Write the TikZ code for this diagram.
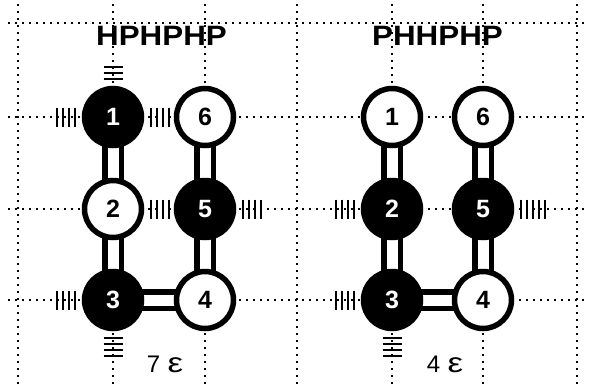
\documentclass[tikz,border=0pt]{standalone}
\usepackage{fontspec}
\setmainfont{Liberation Sans}
\usetikzlibrary{calc,backgrounds}

% strokes of a hydrophobic contact, beside a residue (horizontal offset)
\newcommand\contactside[3]{%
  \foreach \k in {1,...,#3}{\draw[hatch] ($(#1)+({#2*(32+6*\k)},-9.5)$) -- ++(0,19);}}
% strokes of a hydrophobic contact, above or below a residue
\newcommand\contactvert[3]{%
  \foreach \k in {1,...,#3}{\draw[hatch] ($(#1)+(-9.5,{#2*(32+6*\k)})$) -- ++(19,0);}}

\tikzset{
  gridline/.style={line width=2pt, dash pattern=on 2pt off 5pt, black},
  residue/.style={circle, draw=black, line width=5.5pt, minimum size=57pt, inner sep=0pt,
                  font=\fontsize{25}{25}\selectfont\bfseries},
  hres/.style={residue, fill=black, text=white},
  pres/.style={residue, fill=white, text=black},
  bondout/.style={line width=22pt, black},
  bondin/.style={line width=11pt, white},
  hatch/.style={line width=2.5pt, black},
  title/.style={font=\fontsize{28}{28}\selectfont\bfseries, anchor=base, inner sep=0pt},
  energy/.style={font=\fontsize{24}{24}\selectfont, anchor=base, inner sep=0pt}
}

\begin{document}
\begin{tikzpicture}[x=1pt, y=-1pt]
  \useasboundingbox (0,0) rectangle (589,386);

  % HPHPHP conformation
  \node[hres] (L1) at (113,117) {1};
  \node[pres] (L2) at (113,209) {2};
  \node[hres] (L3) at (113,300) {3};
  \node[pres] (L4) at (205,300) {4};
  \node[hres] (L5) at (205,209) {5};
  \node[pres] (L6) at (205,117) {6};

  % PHHPHP conformation
  \node[pres] (R1) at (392,117) {1};
  \node[hres] (R2) at (392,209) {2};
  \node[hres] (R3) at (392,300) {3};
  \node[pres] (R4) at (483,300) {4};
  \node[hres] (R5) at (483,209) {5};
  \node[pres] (R6) at (483,117) {6};

  % lattice and chain bonds, behind the residues
  \begin{scope}[on background layer]
    \fill[white] (0,0) rectangle (589,386);
    \foreach \gx in {18,113,205,297,392,483,577}
      \draw[gridline] (\gx,4) -- (\gx,386);
    \foreach \gy in {23,117,209,300}
      \draw[gridline] (8,\gy) -- (589,\gy);
    \foreach \a/\b in {L1/L2,L2/L3,L3/L4,L4/L5,L5/L6,R1/R2,R2/R3,R3/R4,R4/R5,R5/R6}{
      \draw[bondout] (\a.center) -- (\b.center);
      \draw[bondin] (\a.center) -- (\b.center);
    }
  \end{scope}

  % hydrophobic contacts
  \contactvert{L1}{-1}{3}
  \contactside{L1}{-1}{4}
  \contactside{L1}{1}{4}
  \contactside{L2}{1}{4}
  \contactside{L5}{1}{4}
  \contactside{L3}{-1}{4}
  \contactvert{L3}{1}{4}

  \contactside{R2}{-1}{4}
  \contactside{R5}{1}{5}
  \contactside{R3}{-1}{4}
  \contactvert{R3}{1}{4}

  % sequences and energies
  \node[title] (tL) at (161.5,45) {\scalebox{1.12}[1]{HPHPHP}};
  \node[title] (tR) at (437.5,45) {\scalebox{1.12}[1]{PHHPHP}};
  \node[energy] (eL) at (165,372) {7\hspace{0.3em}\scalebox{1.45}[1.15]{ε}};
  \node[energy] (eR) at (445,372) {4\hspace{0.3em}\scalebox{1.45}[1.15]{ε}};
\end{tikzpicture}
\end{document}
